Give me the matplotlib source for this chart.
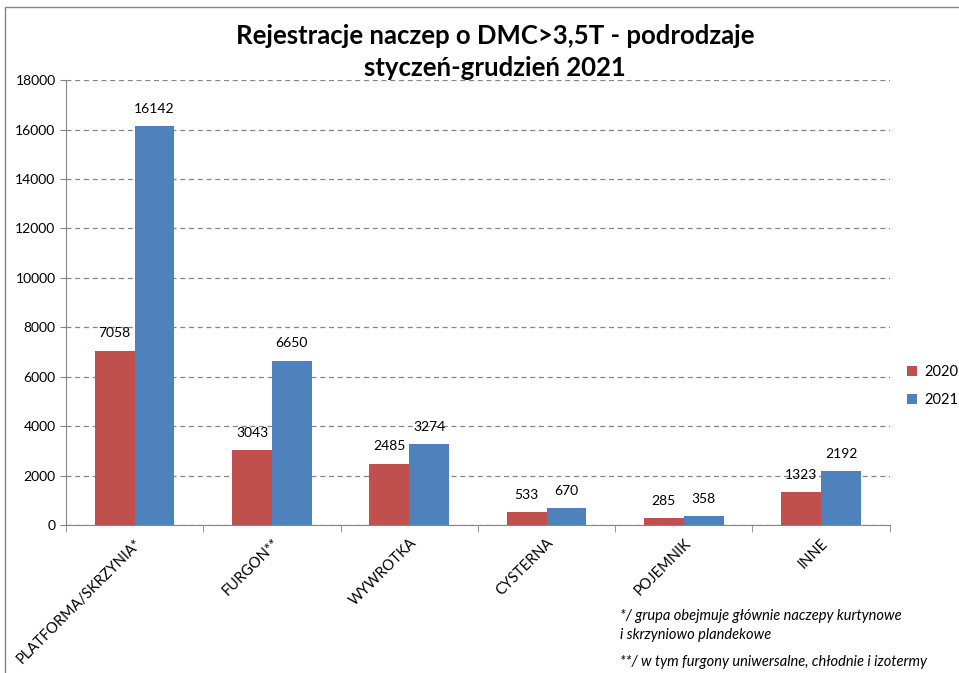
import matplotlib.pyplot as plt
import numpy as np
from matplotlib.patches import Rectangle

categories = ['PLATFORMA/SKRZYNIA*', 'FURGON**', 'WYWROTKA', 'CYSTERNA', 'POJEMNIK', 'INNE']
values_2020 = [7058, 3043, 2485, 533, 285, 1323]
values_2021 = [16142, 6650, 3274, 670, 358, 2192]
series_labels = ['2020', '2021']
colors = ['#C0504D', '#4F81BD']

plt.rcParams['font.family'] = ['Lato', 'DejaVu Sans']

fig = plt.figure(figsize=(9.59, 6.73), dpi=100)
ax = fig.add_axes([0.0688, 0.22, 0.859, 0.661])

# Outer chart border, like the Excel chart frame.
fig.add_artist(Rectangle((0.005, -0.01), 1.2, 1.0, transform=fig.transFigure,
                         fill=False, edgecolor='#868686', linewidth=1))

x = np.arange(len(categories))
w = 0.29
b1 = ax.bar(x - w / 2, values_2020, w, color=colors[0], label=series_labels[0])
b2 = ax.bar(x + w / 2, values_2021, w, color=colors[1], label=series_labels[1])

for bars in (b1, b2):
    for r in bars:
        ax.annotate(f'{int(r.get_height())}', (r.get_x() + r.get_width() / 2, r.get_height()),
                    xytext=(0, 8), textcoords='offset points', ha='center', va='bottom',
                    fontsize=10)

ax.set_xlim(-0.5, len(categories) - 0.5)
ax.set_ylim(0, 18000)
ax.set_yticks(range(0, 18001, 2000))
ax.tick_params(axis='y', labelsize=10, length=4, color='#868686')
ax.yaxis.grid(True, linestyle=(0, (4, 3)), color='#868686', linewidth=0.9)
ax.set_axisbelow(True)

ax.set_xticks(x)
ax.set_xticklabels(categories, rotation=45, ha='right', rotation_mode='anchor', fontsize=10.5)
ax.tick_params(axis='x', length=0, pad=8)
ax.set_xticks(np.arange(-0.5, len(categories), 1), minor=True)
ax.tick_params(axis='x', which='minor', length=5, color='#868686')

for s in ('top', 'right'):
    ax.spines[s].set_visible(False)
for s in ('left', 'bottom'):
    ax.spines[s].set_color('#868686')

fig.text(0.516, 0.947, 'Rejestracje naczep o DMC>3,5T - podrodzaje', ha='center', va='center',
         fontsize=18.5, fontweight='bold')
fig.text(0.516, 0.899, 'styczeń-grudzień 2021', ha='center', va='center',
         fontsize=18.5, fontweight='bold')

ax.legend(loc='center left', bbox_to_anchor=(1.005, 0.312), frameon=False, fontsize=10.5,
          handlelength=0.7, handleheight=0.7, handletextpad=0.5, labelspacing=1.0)

fig.text(0.646, 0.071, '*/ grupa obejmuje głównie naczepy kurtynowe\ni skrzyniowo plandekowe',
         fontsize=10.5, style='italic', va='center', linespacing=1.45)
fig.text(0.646, 0.0163, '**/ w tym furgony uniwersalne, chłodnie i izotermy',
         fontsize=10.5, style='italic', va='center')

plt.savefig('out.png', dpi=100)
